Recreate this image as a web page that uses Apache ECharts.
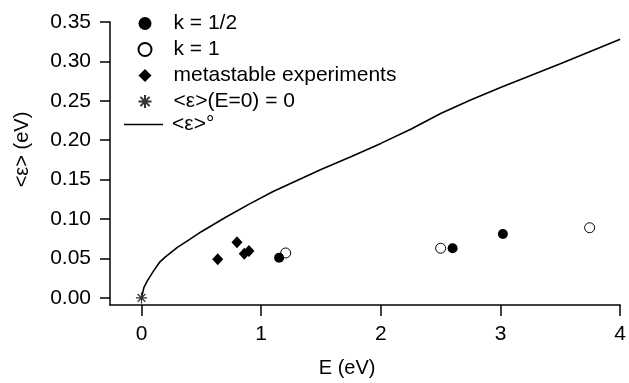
<!DOCTYPE html>
<html>
<head>
<meta charset="utf-8">
<script src="https://cdn.jsdelivr.net/npm/echarts@6/dist/echarts.min.js"></script>
<style>
  html, body { margin: 0; padding: 0; background: #fff; }
  #chart { width: 629px; height: 383px; }
</style>
</head>
<body>
<div id="chart"></div>
<script>
// values
var kHalfE = [1.15, 2.60, 3.02]
var kHalfEps = [0.051, 0.063, 0.081]
var kOneE = [1.205, 2.50, 3.745]
var kOneEps = [0.057, 0.063, 0.089]
var metaE = [0.637, 0.798, 0.859, 0.898]
var metaEps = [0.049, 0.0705, 0.056, 0.0596]
var zeroE = [0]
var zeroEps = [0]
var curveE = [0, 0.02, 0.05, 0.1, 0.15, 0.2, 0.3, 0.4, 0.5, 0.7, 0.9, 1.1, 1.3, 1.5, 1.75, 2.0, 2.25, 2.5, 2.75, 3.0, 3.5, 4.0]
var curveEps = [0, 0.013, 0.022, 0.034, 0.045, 0.052, 0.064, 0.074, 0.084, 0.102, 0.119, 0.135, 0.149, 0.163, 0.179, 0.196, 0.214, 0.234, 0.251, 0.267, 0.297, 0.328]
var xTicks = [0, 1, 2, 3, 4]
var yTicks = [0, 0.05, 0.10, 0.15, 0.20, 0.25, 0.30, 0.35]

var names = ['k = 1/2', 'k = 1', 'metastable experiments', '<ε>(E=0) = 0', '<ε>°']

function pairs(xs, ys) {
    return xs.map(function (x, i) { return [x, ys[i]] })
}

var FONT = '"Liberation Sans", Arial, Helvetica, sans-serif'
var starPath = 'path://M0,-1L0,1M-1,0L1,0M-0.707,-0.707L0.707,0.707M-0.707,0.707L0.707,-0.707'
var legendText = { fontFamily: FONT, fontSize: 21, color: '#000' }

var myChart = echarts.init(document.getElementById('chart'), null, { renderer: 'canvas' })
var option = {
    animation: false,
    backgroundColor: '#fff',
    textStyle: { fontFamily: FONT, color: '#000' },
    grid: {
        left: 110,
        right: 6,
        top: 22,
        bottom: 74,
        containLabel: false
    },
    legend: [
        {
            // marker rows
            orient: 'vertical',
            left: 136,
            top: 13,
            padding: 0,
            itemWidth: 13,
            itemHeight: 13,
            itemGap: 5,
            data: [
                { name: names[0], icon: 'circle' },
                { name: names[1], icon: 'circle' },
                { name: names[2], icon: 'diamond' },
                { name: names[3] }
            ],
            textStyle: Object.assign({ padding: [0, 0, 0, 17] }, legendText),
            selectedMode: false
        },
        {
            // curve row
            orient: 'vertical',
            left: 124,
            top: 114,
            padding: 0,
            itemWidth: 39,
            itemHeight: 1.6,
            data: [{ name: names[4], icon: 'rect' }],
            textStyle: Object.assign({ padding: [0, 0, 0, 4] }, legendText),
            selectedMode: false
        }
    ],
    xAxis: {
        type: 'value',
        min: -0.263,
        max: 4,
        name: 'E (eV)',
        nameLocation: 'middle',
        nameGap: 53,
        nameTextStyle: { fontFamily: FONT, fontSize: 20, color: '#000', padding: [0, 36, 0, 0] },
        axisLine: { onZero: false, lineStyle: { color: '#000', width: 1.5 } },
        axisTick: { show: true, length: 11, lineStyle: { color: '#000', width: 1.5 }, customValues: xTicks },
        axisLabel: { fontFamily: FONT, fontSize: 21, color: '#000', margin: 19, customValues: xTicks },
        splitLine: { show: false }
    },
    yAxis: {
        type: 'value',
        min: -0.009,
        max: 0.35,
        name: '<ε> (eV)',
        nameLocation: 'middle',
        nameGap: 78,
        nameTextStyle: { fontFamily: FONT, fontSize: 20, color: '#000', padding: [0, 0, 0, 28] },
        axisLine: { onZero: false, lineStyle: { color: '#000', width: 1.5 } },
        axisTick: { show: true, length: 10, lineStyle: { color: '#000', width: 1.5 }, customValues: yTicks },
        axisLabel: {
            fontFamily: FONT, fontSize: 21, color: '#000', margin: 19,
            customValues: yTicks,
            formatter: function (v) { return v.toFixed(2) }
        },
        splitLine: { show: false }
    },
    series: [
        {
            name: names[4],
            type: 'line',
            data: pairs(curveE, curveEps),
            symbol: 'none',
            smooth: false,
            lineStyle: { color: '#000', width: 1.6 },
            itemStyle: { color: '#000' },
            z: 2
        },
        {
            name: names[1],
            type: 'scatter',
            data: pairs(kOneE, kOneEps),
            symbol: 'circle',
            symbolSize: 10,
            itemStyle: { color: '#fff', borderColor: '#000', borderWidth: 1, opacity: 1 },
            z: 3
        },
        {
            name: names[0],
            type: 'scatter',
            data: pairs(kHalfE, kHalfEps),
            symbol: 'circle',
            symbolSize: 10,
            itemStyle: { color: '#000', opacity: 1 },
            z: 4
        },
        {
            name: names[2],
            type: 'scatter',
            data: pairs(metaE, metaEps),
            symbol: 'diamond',
            symbolSize: [11, 12],
            itemStyle: { color: '#000', opacity: 1 },
            z: 4
        },
        {
            name: names[3],
            type: 'scatter',
            data: pairs(zeroE, zeroEps),
            symbol: starPath,
            symbolSize: 11,
            itemStyle: { color: 'none', borderColor: '#333', borderWidth: 1.2, opacity: 1 },
            z: 5
        }
    ]
}
myChart.setOption(option)
</script>
</body>
</html>
